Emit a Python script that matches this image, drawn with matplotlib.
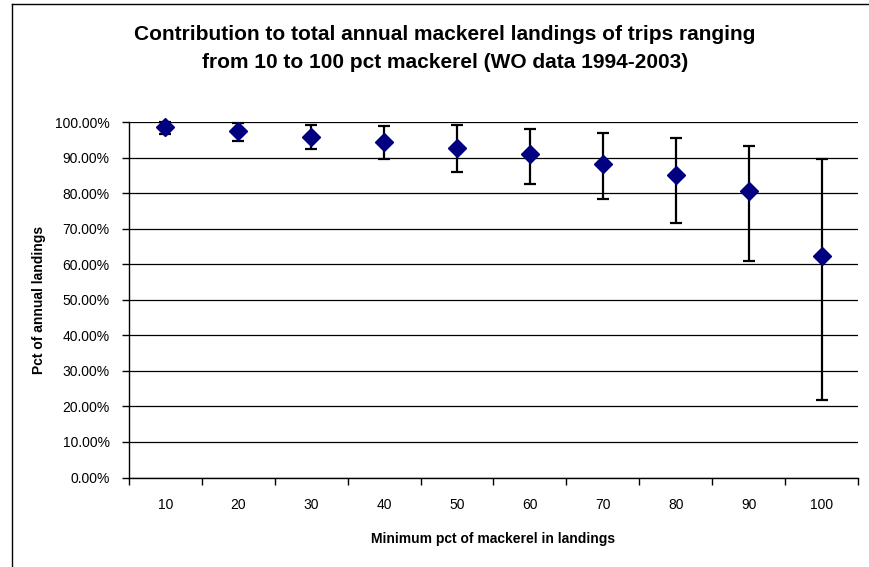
import matplotlib
matplotlib.use("Agg")
import matplotlib.pyplot as plt
import matplotlib.ticker as mticker
from matplotlib.lines import Line2D

plt.rcParams['font.family'] = ['Liberation Sans', 'DejaVu Sans']

# minimum pct of mackerel in landings
categories = ['10', '20', '30', '40', '50', '60', '70', '80', '90', '100']
mean_pct = [98.7, 97.5, 95.9, 94.5, 92.8, 91.0, 88.3, 85.2, 80.6, 62.4]
upper_pct = [100.0, 99.6, 99.2, 99.0, 99.1, 97.9, 96.9, 95.4, 93.2, 89.7]
lower_pct = [96.5, 94.7, 92.4, 89.6, 85.8, 82.7, 78.3, 71.7, 61.0, 21.9]

W, H = 869, 567
fig = plt.figure(figsize=(W / 100, H / 100), dpi=100)
ax = fig.add_axes([129 / W, 1 - 477.5 / H, (858 - 129) / W, (477.5 - 122) / H])

x = list(range(1, len(categories) + 1))
y = [v / 100 for v in mean_pct]
err_lo = [(m - l) / 100 for m, l in zip(mean_pct, lower_pct)]
err_hi = [(u - m) / 100 for m, u in zip(mean_pct, upper_pct)]

ax.errorbar(x, y, yerr=[err_lo, err_hi], fmt='D', color='#000080',
            markersize=9, ecolor='black', elinewidth=1.6, capsize=4,
            capthick=1.6, zorder=3, clip_on=False)

ax.set_xlim(0.5, len(categories) + 0.5)
ax.set_ylim(0, 1)
ax.yaxis.set_major_locator(mticker.MultipleLocator(0.1))
ax.yaxis.set_major_formatter(mticker.FuncFormatter(lambda v, p: f"{v * 100:.2f}%"))
ax.grid(axis='y', color='black', linewidth=0.9)
ax.set_axisbelow(True)

ax.set_xticks(x)
ax.set_xticklabels(categories)
ax.set_xticks([i + 0.5 for i in range(0, len(categories) + 1)], minor=True)
ax.tick_params(axis='x', which='major', length=0, pad=15, labelsize=10)
ax.tick_params(axis='x', which='minor', length=5, width=1, direction='out')
ax.tick_params(axis='y', length=5, width=1, direction='out', labelsize=10, pad=9)

for s in ['top', 'right']:
    ax.spines[s].set_visible(False)
ax.spines['left'].set_linewidth(1)
ax.spines['bottom'].set_linewidth(1)

ax.set_xlabel('Minimum pct of mackerel in landings', fontsize=10,
              fontweight='bold', labelpad=14)
ax.set_ylabel('Pct of annual landings', fontsize=10, fontweight='bold',
              labelpad=6)

fig.text(0.512, 1 - 48 / H,
         'Contribution to total annual mackerel landings of trips ranging\n'
         'from 10 to 100 pct mackerel (WO data 1994-2003)',
         ha='center', va='center', fontsize=15, fontweight='bold',
         linespacing=1.6)

# chart frame (left and top edges visible)
fx, fy = 11.5 / W, 1 - 4 / H
fig.add_artist(Line2D([fx, fx], [0, fy], transform=fig.transFigure,
                      color='black', linewidth=1))
fig.add_artist(Line2D([fx, 1], [fy, fy], transform=fig.transFigure,
                      color='black', linewidth=1))

fig.savefig('out.png', dpi=100)
